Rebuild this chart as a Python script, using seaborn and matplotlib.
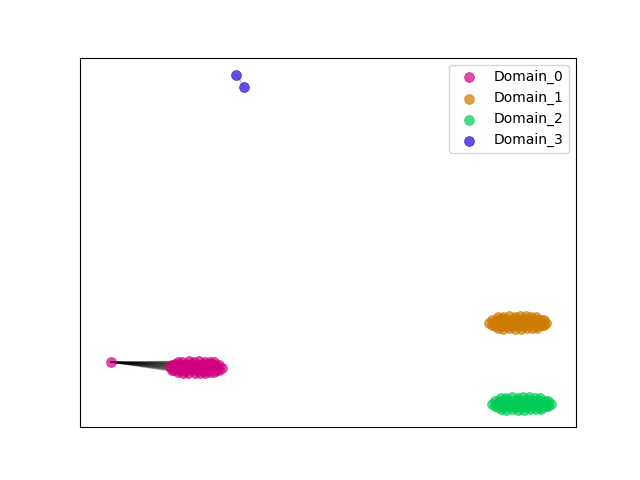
import numpy as np
import pandas as pd
import matplotlib
matplotlib.use("Agg")
import matplotlib.pyplot as plt
import seaborn as sns

# embedding coordinates per domain
# first Domain_0 point is the outlier on the left
d0_x = [-18.9,
        -12.2, -11.8, -11.1, -10.6, -10.1, -9.5, -9.0, -8.6,
        -12.8, -12.5, -12.0, -11.4, -10.9, -10.2, -9.7, -9.0, -8.5, -8.1,
        -13.0, -12.4, -11.9, -11.2, -10.7, -10.0, -9.4, -8.9, -8.3, -7.8,
        -12.8, -12.6, -12.1, -11.5, -10.8, -10.3, -9.6, -9.1, -8.4, -8.1,
        -12.2, -11.7, -11.2, -10.5, -10.0, -9.5, -9.0, -8.6]
d0_y = [-12.2,
        -12.2, -12.15, -12.1, -12.15, -12.1, -12.15, -12.2, -12.2,
        -12.45, -12.4, -12.45, -12.4, -12.35, -12.45, -12.4, -12.35, -12.45, -12.45,
        -12.7, -12.65, -12.75, -12.7, -12.65, -12.75, -12.7, -12.65, -12.7, -12.75,
        -12.95, -13.0, -12.95, -13.05, -13.0, -12.95, -13.05, -13.0, -12.95, -12.95,
        -13.2, -13.25, -13.3, -13.25, -13.3, -13.25, -13.2, -13.2]

d1_x = [19.8, 20.3, 20.9, 21.5, 22.0, 22.6, 23.1, 23.6,
        19.2, 19.6, 20.2, 20.8, 21.4, 22.0, 22.5, 23.1, 23.7, 24.1, 24.4,
        18.9, 19.5, 20.1, 20.7, 21.3, 21.9, 22.4, 23.0, 23.6, 24.1, 24.6,
        19.2, 19.5, 20.1, 20.7, 21.2, 21.8, 22.4, 23.0, 23.6, 24.2, 24.4,
        19.8, 20.3, 20.9, 21.5, 22.1, 22.7, 23.2, 23.7]
d1_y = [-7.7, -7.65, -7.6, -7.65, -7.55, -7.6, -7.7, -7.7,
        -8.0, -7.95, -7.9, -8.0, -7.9, -7.95, -7.9, -8.0, -7.95, -8.0, -8.0,
        -8.25, -8.2, -8.3, -8.25, -8.2, -8.3, -8.25, -8.2, -8.3, -8.25, -8.25,
        -8.5, -8.55, -8.6, -8.5, -8.6, -8.55, -8.6, -8.5, -8.55, -8.5, -8.5,
        -8.8, -8.85, -8.8, -8.9, -8.85, -8.8, -8.8, -8.8]

d2_x = [20.1, 20.6, 21.2, 21.8, 22.3, 22.9, 23.5, 24.0,
        19.5, 19.9, 20.5, 21.1, 21.7, 22.3, 22.8, 23.4, 24.0, 24.5, 24.8,
        19.2, 19.8, 20.4, 21.0, 21.6, 22.2, 22.7, 23.3, 23.9, 24.5, 25.1,
        19.5, 19.8, 20.4, 21.0, 21.6, 22.2, 22.8, 23.4, 24.0, 24.6, 24.8,
        20.1, 20.6, 21.2, 21.8, 22.4, 23.0, 23.6, 24.1]
d2_y = [-15.8, -15.75, -15.7, -15.75, -15.65, -15.7, -15.8, -15.8,
        -16.1, -16.05, -16.0, -16.1, -16.0, -16.05, -16.0, -16.1, -16.05, -16.1, -16.1,
        -16.35, -16.3, -16.4, -16.35, -16.3, -16.4, -16.35, -16.3, -16.4, -16.35, -16.35,
        -16.6, -16.65, -16.7, -16.6, -16.7, -16.65, -16.7, -16.6, -16.65, -16.6, -16.6,
        -16.9, -16.95, -16.9, -17.0, -16.95, -16.9, -16.9, -16.9]

d3_x = [-6.4, -5.6]
d3_y = [16.5, 15.3]

domains = ["Domain_0", "Domain_1", "Domain_2", "Domain_3"]
colors = ["#d1007f", "#cc7a00", "#00cc55", "#2a05d5"]

frames = []
for name, xs, ys in zip(domains, [d0_x, d1_x, d2_x, d3_x], [d0_y, d1_y, d2_y, d3_y]):
    frames.append(pd.DataFrame({"x": xs, "y": ys, "domain": name}))
df = pd.concat(frames, ignore_index=True)

fig, ax = plt.subplots(figsize=(6.4, 4.8), dpi=100)

# links from the Domain_0 outlier to its cluster
for xx, yy in zip(d0_x[1:], d0_y[1:]):
    ax.plot([d0_x[0], xx], [d0_y[0], yy], color="black", alpha=0.15, lw=1, zorder=1)
ax.plot(d3_x, d3_y, color="gray", alpha=0.5, lw=1, zorder=1)

for name, col in zip(domains, colors):
    sub = df[df["domain"] == name]
    sns.scatterplot(data=sub, x="x", y="y", color=col, label=name, s=50,
                    alpha=0.7, edgecolor="face", ax=ax, zorder=2)

ax.set_xlim(-22.0, 27.6)
ax.set_ylim(-18.7, 18.2)
ax.set_xticks([])
ax.set_yticks([])
ax.set_xlabel("")
ax.set_ylabel("")
ax.legend(loc="upper right")

plt.savefig("out.png", dpi=100)
